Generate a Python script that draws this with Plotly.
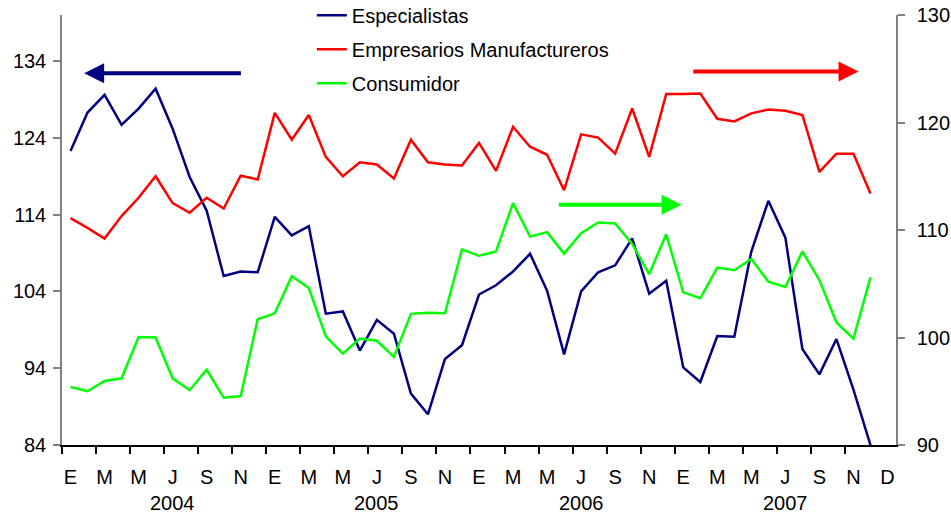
import plotly.graph_objects as go

# ---- data (monthly, Jan 2004 .. Dec 2007) ----
especialistas = [122.3, 127.3, 129.6, 125.7, 127.8, 130.4, 125.2, 118.9, 114.5, 106.0, 106.6, 106.5,
                 113.7, 111.3, 112.5, 101.1, 101.4, 96.3, 100.3, 98.5, 90.7, 88.0, 95.2, 97.0,
                 103.6, 104.8, 106.6, 108.9, 104.1, 95.8, 104.0, 106.5, 107.4, 110.9, 103.7, 105.4,
                 94.1, 92.2, 98.2, 98.1, 109.2, 115.8, 111.0, 96.5, 93.2, 97.8, 91.2, 84.0]
empresarios = [111.1, 110.2, 109.2, 111.3, 113.0, 115.0, 112.5, 111.6, 113.0, 112.0, 115.05, 114.7,
               120.9, 118.4, 120.7, 116.8, 115.0, 116.3, 116.1, 114.8, 118.4, 116.3, 116.1, 116.0,
               118.1, 115.5, 119.6, 117.75, 117.0, 113.7, 118.9, 118.6, 117.1, 121.3, 116.8, 122.65,
               122.65, 122.7, 120.35, 120.1, 120.85, 121.2, 121.1, 120.7, 115.4, 117.1, 117.1, 113.4]
consumidor = [95.4, 95.0, 95.95, 96.2, 100.05, 100.0, 96.2, 95.1, 97.0, 94.4, 94.55, 101.7,
              102.25, 105.7, 104.6, 100.1, 98.5, 99.9, 99.7, 98.2, 102.2, 102.3, 102.25, 108.2,
              107.6, 108.0, 112.5, 109.4, 109.8, 107.8, 109.7, 110.7, 110.6, 108.7, 105.9, 109.6,
              104.2, 103.65, 106.5, 106.25, 107.3, 105.2, 104.7, 108.0, 105.35, 101.4, 99.9, 105.6]

month_labels = ["E", "M", "M", "J", "S", "N"] * 4 + ["D"]
year_labels = ["2004", "2005", "2006", "2007"]

n_cat = 49
x_idx = list(range(len(especialistas)))
label_pos = list(range(0, n_cat, 2))
tick_bounds = [i - 0.5 for i in range(0, n_cat - 1, 2)]
year_pos = [6, 18, 30, 42]

FONT = "Liberation Sans, Arial, sans-serif"
NAVY = "#000080"
RED = "#FF0000"
GREEN = "#00FF00"
FS = 20

fig = go.Figure()
fig.add_trace(go.Scatter(x=x_idx, y=especialistas, mode="lines", name="Especialistas",
                         line=dict(color=NAVY, width=2.5), yaxis="y", legendgroup="a"))
fig.add_trace(go.Scatter(x=x_idx, y=empresarios, mode="lines", name="Empresarios Manufactureros",
                         line=dict(color=RED, width=2.5), yaxis="y2", legendgroup="b"))
fig.add_trace(go.Scatter(x=x_idx, y=consumidor, mode="lines", name="Consumidor",
                         line=dict(color=GREEN, width=2.5), yaxis="y2", legendgroup="c"))

# arrows indicating axis of reference
arrows = [
    dict(x=0.8, y=132.4, ax=10.1, ay=132.4, yref="y", ayref="y", color=NAVY),
    dict(x=46.3, y=124.75, ax=36.5, ay=124.75, yref="y2", ayref="y2", color=RED),
    dict(x=35.9, y=112.35, ax=28.6, ay=112.35, yref="y2", ayref="y2", color=GREEN),
]
for a in arrows:
    fig.add_annotation(x=a["x"], y=a["y"], ax=a["ax"], ay=a["ay"], xref="x", axref="x",
                       yref=a["yref"], ayref=a["ayref"], text="", showarrow=True,
                       arrowhead=2, arrowsize=1.0, arrowwidth=4, arrowcolor=a["color"])

for xp, yl in zip(year_pos, year_labels):
    fig.add_annotation(x=xp, y=-0.135, xref="x", yref="paper", text=yl, showarrow=False,
                       font=dict(family=FONT, size=FS, color="black"), yanchor="middle")

fig.update_layout(
    width=951, height=514,
    margin=dict(l=62, r=55, t=15, b=69, autoexpand=False),
    paper_bgcolor="white", plot_bgcolor="white",
    font=dict(family=FONT, size=FS, color="black"),
    showlegend=True,
    legend=dict(x=0.2996, y=1.045, xanchor="left", yanchor="top", bgcolor="rgba(0,0,0,0)",
                font=dict(family=FONT, size=FS), traceorder="grouped", tracegroupgap=5),
    xaxis=dict(range=[-0.5, n_cat - 0.5], tickmode="array", tickvals=label_pos,
               ticktext=month_labels, ticks="", showgrid=False, zeroline=False,
               showline=True, linecolor="black", linewidth=1.5, ticklabelstandoff=13,
               minor=dict(tickmode="array", tickvals=tick_bounds, ticks="outside",
                          ticklen=7, tickcolor="black", tickwidth=1.5, showgrid=False)),
    yaxis=dict(range=[84, 140], tickmode="array", tickvals=[84, 94, 104, 114, 124, 134],
               ticks="outside", ticklen=7, tickcolor="#808080", tickwidth=1.5,
               ticklabelstandoff=3,
               showgrid=False, zeroline=False, showline=True, linecolor="#808080", linewidth=1.5),
    yaxis2=dict(range=[90, 130], tickmode="array", tickvals=[90, 100, 110, 120, 130],
                overlaying="y", side="right", ticks="outside", ticklen=7, tickcolor="#808080",
                tickwidth=1.5, ticklabelstandoff=8, showgrid=False, zeroline=False, showline=True,
                linecolor="#808080", linewidth=1.5),
)

fig.write_html("out.html", config={"displayModeBar": False},
               post_script="document.body.style.margin='0';document.body.style.overflow='hidden';")
